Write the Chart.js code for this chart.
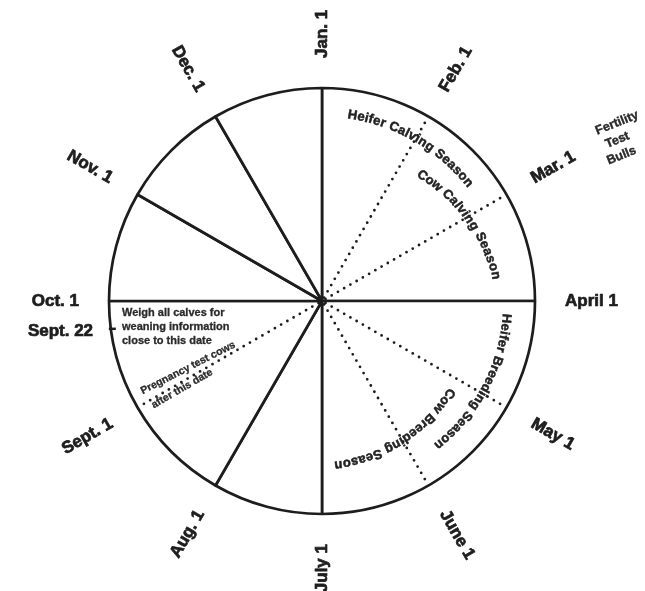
<!DOCTYPE html>
<html>
<head>
<meta charset="utf-8">
<script src="https://cdn.jsdelivr.net/npm/chart.js@4.4.0/dist/chart.umd.min.js"></script>
<style>
  html, body { margin: 0; padding: 0; background: #fff; }
  #wrap { position: relative; width: 645px; height: 591px; }
</style>
</head>
<body>
<div id="wrap"><canvas id="calendario"></canvas></div>
<script>
// ============================
// DATOS
// ============================
const monthLabels = ["Jan. 1", "Feb. 1", "Mar. 1", "April 1", "May 1", "June 1",
                     "July 1", "Aug. 1", "Sept. 1", "Oct. 1", "Nov. 1", "Dec. 1"];
// solid sectors, length in months, starting at Jan. 1
const sectorNames = ["Jan. 1 - April 1", "April 1 - July 1", "July 1 - Aug. 1", "Aug. 1 - Oct. 1",
                     "Oct. 1 - Nov. 1", "Nov. 1 - Dec. 1", "Dec. 1 - Jan. 1"];
const sectorMonths = [3, 3, 1, 2, 1, 1, 1];
// dotted season boundaries (month index)
const dottedMonths = [1, 2, 4, 5, 8];
const seasonNames = ["Heifer Calving Season", "Cow Calving Season",
                     "Heifer Breeding Season", "Cow Breeding Season"];
const weaningMonth = 8.75;
const weaningLabel = "Sept. 22";
const weaningNote = ["Weigh all calves for", "weaning information", "close to this date"];
const pregnancyNote = ["Pregnancy test cows", "after this date"];
const bullNote = ["Fertility", "Test", "Bulls"];

// ============================
// ESTILOS
// ============================
const INK = "#1d1d1d";
const FONT = '"Liberation Sans", Arial, Helvetica, sans-serif';
const seasonPos = [
  { mid: 30, r0: 188, r1: 188 },
  { mid: 60, r0: 160, r1: 176 },
  { mid: 118, r0: 185, r1: 185 },
  { mid: 150, r0: 157, r1: 165 }
];

// texto con trazo fino para que se vea mas negro
function heavyText(ctx, t, x, y, w) {
  ctx.lineWidth = w;
  ctx.strokeText(t, x, y);
  ctx.fillText(t, x, y);
}

function arcText(ctx, text, cx, cy, midDeg, r0, r1, spacing) {
  const chars = [...text];
  const widths = chars.map(ch => ctx.measureText(ch).width);
  const total = widths.reduce((s, w) => s + w, 0) + spacing * (chars.length - 1);
  const rm = (r0 + r1) / 2;
  const mid = midDeg * Math.PI / 180;
  let acc = 0;
  chars.forEach((ch, i) => {
    const c = acc + widths[i] / 2;
    const r = r0 + (r1 - r0) * (c / total);
    const a = mid + (c - total / 2) / rm;
    ctx.save();
    ctx.translate(cx + r * Math.sin(a), cy - r * Math.cos(a));
    ctx.rotate(a);
    heavyText(ctx, ch, 0, 0, 0.5);
    ctx.restore();
    acc += widths[i] + spacing;
  });
}

const calendarPlugin = {
  id: "calendario",
  afterDatasetsDraw(chart) {
    const arc = chart.getDatasetMeta(0).data[0];
    const cx = arc.x, cy = arc.y, R = arc.outerRadius;
    const ctx = chart.ctx;
    const ang = m => m / 12 * 2 * Math.PI;
    const pt = (a, r) => [cx + r * Math.sin(a), cy - r * Math.cos(a)];
    ctx.save();

    // --- dotted season lines
    ctx.strokeStyle = INK;
    ctx.lineWidth = 2.8;
    ctx.lineCap = "round";
    ctx.setLineDash([0, 7.2]);
    dottedMonths.forEach(m => {
      const [x0, y0] = pt(ang(m), 4);
      const [x1, y1] = pt(ang(m), R - 5);
      ctx.beginPath(); ctx.moveTo(x0, y0); ctx.lineTo(x1, y1); ctx.stroke();
    });
    ctx.setLineDash([]);
    ctx.lineCap = "butt";

    // --- Sept. 22 tick
    const [tx, ty] = pt(ang(weaningMonth), R);
    ctx.lineWidth = 2.5;
    ctx.beginPath(); ctx.moveTo(tx - 2, ty); ctx.lineTo(tx + 5, ty); ctx.stroke();

    // --- month labels
    ctx.fillStyle = INK;
    ctx.font = "bold 17px " + FONT;
    ctx.textBaseline = "middle";
    monthLabels.forEach((lab, i) => {
      const deg = i * 30;
      let rot = deg - 90;
      if (deg >= 180) rot -= 180;
      const [x, y] = pt(ang(i), R + 30);
      ctx.save();
      ctx.translate(x, y);
      ctx.rotate(rot * Math.PI / 180);
      ctx.textAlign = deg < 180 ? "left" : "right";
      heavyText(ctx, lab, 0, 0, 0.7);
      ctx.restore();
    });
    const [wx, wy] = pt(ang(weaningMonth), R + 30);
    ctx.textAlign = "right";
    heavyText(ctx, weaningLabel, wx + 12, wy - 1, 0.7);

    // --- season names along arcs
    ctx.font = "bold 13px " + FONT;
    ctx.textAlign = "center";
    ctx.fillStyle = "#222";
    ctx.strokeStyle = "#222";
    seasonNames.forEach((s, i) => {
      const p = seasonPos[i];
      arcText(ctx, s, cx, cy, p.mid, p.r0, p.r1, 0.4);
    });

    // --- weaning note
    ctx.font = "bold 11px " + FONT;
    ctx.textAlign = "left";
    ctx.fillStyle = "#2a2a2a";
    ctx.strokeStyle = "#2a2a2a";
    weaningNote.forEach((t, i) => heavyText(ctx, t, cx - 200, cy + 12 + i * 14, 0.3));

    // --- pregnancy note along the Sept. 1 line
    ctx.font = "bold 10.5px " + FONT;
    ctx.textAlign = "center";
    const rots = [-27, -30], rads = [150, 165], offs = [-9, 6];
    pregnancyNote.forEach((t, i) => {
      const [x, y] = pt(ang(8), rads[i]);
      ctx.save();
      ctx.translate(x, y);
      ctx.rotate(rots[i] * Math.PI / 180);
      heavyText(ctx, t, 0, offs[i], 0.3);
      ctx.restore();
    });

    // --- bull fertility note
    ctx.font = "bold 12.5px " + FONT;
    ctx.save();
    ctx.translate(cx + 295, cy - 178);
    ctx.rotate(-22 * Math.PI / 180);
    const bx = [0, -6, -8];
    bullNote.forEach((t, i) => heavyText(ctx, t, bx[i], i * 16, 0.4));
    ctx.restore();

    ctx.restore();
  }
};

new Chart(document.getElementById("calendario"), {
  type: "pie",
  data: {
    labels: sectorNames,
    datasets: [{
      data: sectorMonths,
      backgroundColor: "#ffffff",
      borderColor: INK,
      borderWidth: 2.7,
      radius: 213
    }]
  },
  options: {
    responsive: true,
    maintainAspectRatio: false,
    animation: false,
    events: [],
    layout: { padding: { top: 51, bottom: 40, left: 40, right: 41 } },
    plugins: { legend: { display: false }, tooltip: { enabled: false } }
  },
  plugins: [calendarPlugin]
});
</script>
</body>
</html>
